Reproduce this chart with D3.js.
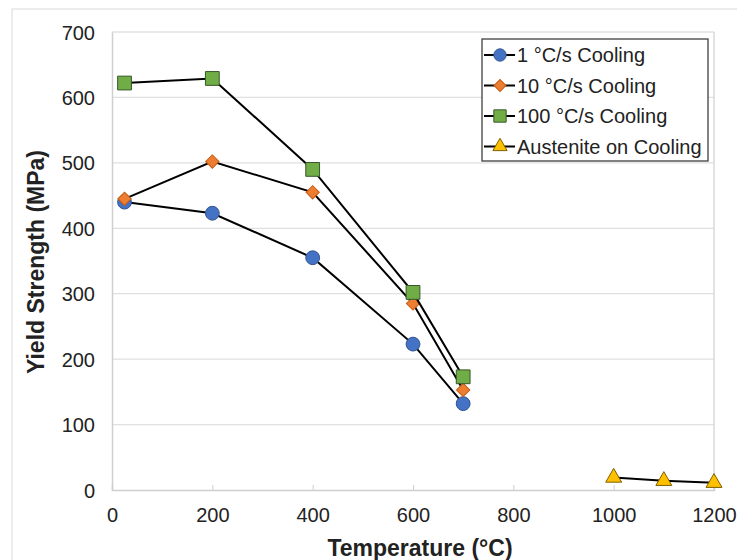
<!DOCTYPE html>
<html lang="en">
<head>
<meta charset="UTF-8">
<script src="https://d3js.org/d3.v7.min.js"></script>
<style>
    body { margin: 0; background: #fff; }
    text { font-family: "Liberation Sans", Arial, sans-serif; fill: #222; }
    .tick text { font-size: 20px; }
    .title { font-size: 23px; font-weight: bold; }
    .legend text { font-size: 20px; }
</style>
</head>
<body>
<svg width="737" height="560"></svg>
<script>
// data
var temps = [25, 200, 400, 600, 700];
var cool1 = [440, 423, 355, 223, 132];
var cool10 = [445, 502, 455, 285, 153];
var cool100 = [622, 629, 490, 302, 173];
var austTemps = [1000, 1100, 1200];
var austenite = [19, 14, 11];
var xTicks = [0, 200, 400, 600, 800, 1000, 1200];
var yTicks = [0, 100, 200, 300, 400, 500, 600, 700];

var series = [
    {name: "1 \u00b0C/s Cooling", x: temps, y: cool1, shape: d3.symbolCircle, size: 150, rot: 0, fill: "#4472C4", stroke: "#2F528F"},
    {name: "10 \u00b0C/s Cooling", x: temps, y: cool10, shape: d3.symbolSquare, size: 88, rot: 45, fill: "#ED7D31", stroke: "#C55A11"},
    {name: "100 \u00b0C/s Cooling", x: temps, y: cool100, shape: d3.symbolSquare, size: 190, rot: 0, fill: "#70AD47", stroke: "#38572A"},
    {name: "Austenite on Cooling", x: austTemps, y: austenite, shape: d3.symbolTriangle, size: 110, rot: 0, fill: "#FFC000", stroke: "#7F6000"}
];

var svg = d3.select("svg");
var margin = {top: 32, left: 112, right: 23, bottom: 70};

// outer chart frame (cropped)
svg.append("rect").attr("x", 12).attr("y", 9).attr("width", 740).attr("height", 560)
    .attr("fill", "none").attr("stroke", "#d9d9d9").attr("stroke-width", 1);

var g = svg.append("g").attr("transform", "translate(" + margin.left + "," + margin.top + ")");

var x = d3.scaleLinear().domain([0, 1200]).range([0, 602]);
var y = d3.scaleLinear().domain([0, 700]).range([458, 0]);

// gridlines
g.append("g").selectAll("line").data(yTicks.slice(1)).enter().append("line")
    .attr("x1", 0).attr("x2", x(1200))
    .attr("y1", function(d) { return y(d); }).attr("y2", function(d) { return y(d); })
    .attr("stroke", "#e0e0e0").attr("stroke-width", 1.3);
g.append("line").attr("x1", x(1200)).attr("x2", x(1200)).attr("y1", 0).attr("y2", y(0))
    .attr("stroke", "#d9d9d9").attr("stroke-width", 1.5);

// axes
var xAxis = g.append("g").attr("transform", "translate(0," + y(0) + ")")
    .call(d3.axisBottom(x).tickValues(xTicks).tickFormat(d3.format("d")).tickSize(-5).tickPadding(18));
var yAxis = g.append("g")
    .call(d3.axisLeft(y).tickValues(yTicks).tickSize(0).tickPadding(17));
[xAxis, yAxis].forEach(function(a) {
    a.select(".domain").attr("stroke", "#cfcfcf").attr("stroke-width", 1.5);
    a.selectAll(".tick line").attr("stroke", "#cfcfcf");
    a.selectAll(".tick text").attr("fill", "#222");
});
yAxis.selectAll(".tick text").attr("dy", "0.35em");

// lines and markers
var line = d3.line()
    .x(function(d) { return x(d[0]); })
    .y(function(d) { return y(d[1]); });

series.forEach(function(s) {
    var pts = d3.zip(s.x, s.y);
    g.append("path").datum(pts).attr("d", line)
        .attr("fill", "none").attr("stroke", "#000").attr("stroke-width", 2);
    g.selectAll(null).data(pts).enter().append("path")
        .attr("d", d3.symbol().type(s.shape).size(s.size))
        .attr("transform", function(d) { return "translate(" + x(d[0]) + "," + y(d[1]) + ") rotate(" + s.rot + ")"; })
        .attr("fill", s.fill).attr("stroke", s.stroke).attr("stroke-width", 1);
});

// axis titles
svg.append("text").attr("class", "title").attr("x", 420).attr("y", 556)
    .attr("text-anchor", "middle").text("Temperature (\u00b0C)");
svg.append("text").attr("class", "title")
    .attr("transform", "translate(44,262) rotate(-90)")
    .attr("text-anchor", "middle").text("Yield Strength (MPa)");

// legend
var legend = svg.append("g").attr("class", "legend");
legend.append("rect").attr("x", 482).attr("y", 39).attr("width", 226).attr("height", 122)
    .attr("fill", "#fff").attr("stroke", "#404040").attr("stroke-width", 1.3);
var items = legend.selectAll("g.item").data(series).enter().append("g")
    .attr("class", "item")
    .attr("transform", function(d, i) { return "translate(483," + (55 + i * 30.5) + ")"; });
items.append("line").attr("x1", 1).attr("x2", 32).attr("y1", 0).attr("y2", 0)
    .attr("stroke", "#000").attr("stroke-width", 2);
items.append("path")
    .attr("d", function(d) { return d3.symbol().type(d.shape).size(d.size * 0.8)(); })
    .attr("transform", function(d) { return "translate(17,0) rotate(" + d.rot + ")"; })
    .attr("fill", function(d) { return d.fill; })
    .attr("stroke", function(d) { return d.stroke; });
items.append("text").attr("x", 34).attr("y", 0).attr("dy", "0.36em")
    .text(function(d) { return d.name; });
</script>
</body>
</html>
